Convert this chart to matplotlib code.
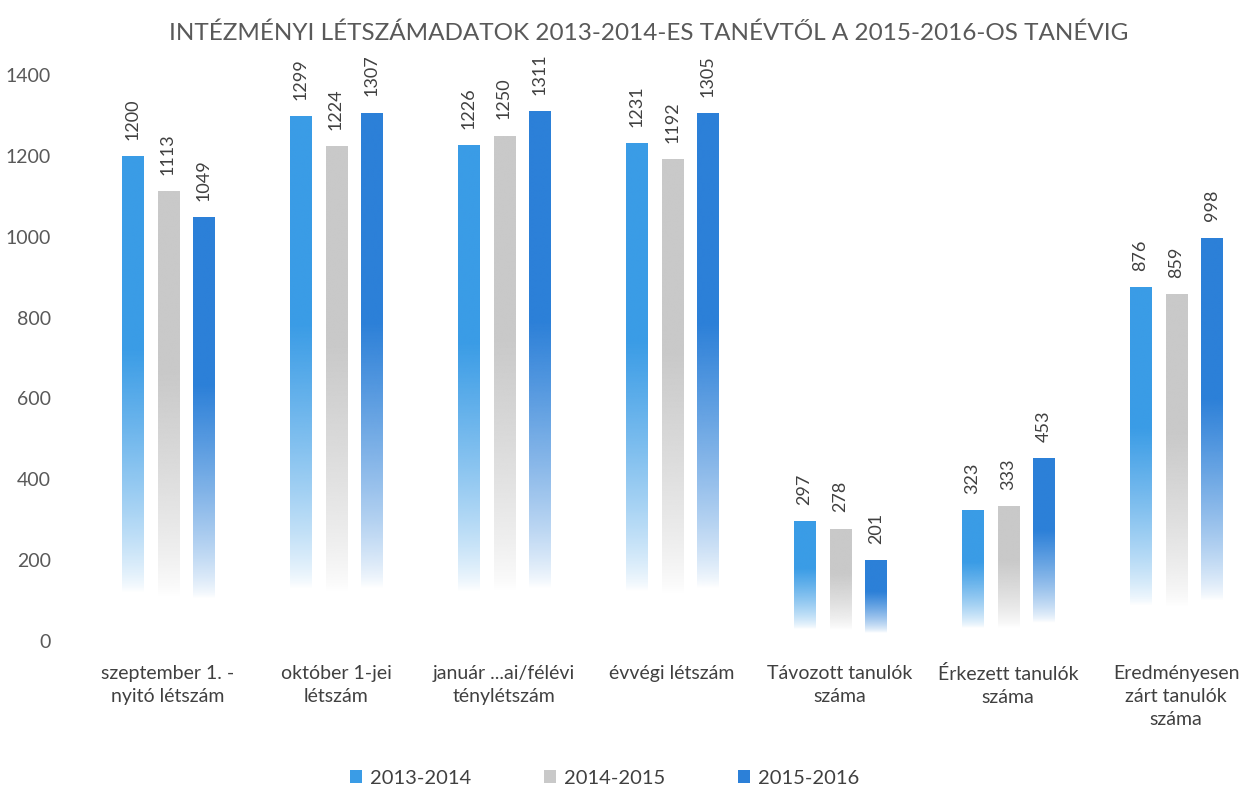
import numpy as np
import matplotlib.pyplot as plt
from matplotlib.colors import to_rgb
from matplotlib.patches import Patch

plt.rcParams['font.family'] = ['Lato', 'DejaVu Sans']

categories = ["szeptember 1. -\nnyitó létszám", "október 1-jei\nlétszám",
              "január ...ai/félévi\nténylétszám", "évvégi létszám",
              "Távozott tanulók\nszáma", "Érkezett tanulók\nszáma",
              "Eredményesen\nzárt tanulók\nszáma"]
series = ["2013-2014", "2014-2015", "2015-2016"]
v2013 = [1200, 1299, 1226, 1231, 297, 323, 876]
v2014 = [1113, 1224, 1250, 1192, 278, 333, 859]
v2015 = [1049, 1307, 1311, 1305, 201, 453, 998]
colors = ["#3a9ce6", "#c9c9c9", "#2c80d8"]

fig = plt.figure(figsize=(12.55, 7.94), dpi=100)
ax = fig.add_axes([84 / 1255, 153 / 794, (1255 - 84) / 1255, 566 / 794])

x = np.arange(len(categories))
width = 0.125
offset = 0.214


def gradient_bars(ax, xs, vals, color):
    bars = ax.bar(xs, vals, width, color='none', edgecolor='none')
    rgb = np.array(to_rgb(color))
    f = np.linspace(0, 1, 256)[:, None]
    a = np.clip((f - 0.1) / 0.5, 0, 1) ** 0.75
    img = np.zeros((256, 1, 4))
    img[..., :3] = rgb
    img[..., 3] = a
    for b in bars:
        im = ax.imshow(img, extent=[b.get_x(), b.get_x() + b.get_width(), 0, b.get_height()],
                       origin='lower', aspect='auto', interpolation='bilinear', zorder=2)
        im.set_clip_path(b)
    return bars


for i, (vals, c) in enumerate(zip([v2013, v2014, v2015], colors)):
    xs = x + (i - 1) * offset
    gradient_bars(ax, xs, vals, c)
    for xi, v in zip(xs, vals):
        ax.text(xi, v + 40, str(v), rotation=90, ha='center', va='bottom',
                fontsize=13, color='#404040')

ax.set_xlim(-0.5, 6.47)
ax.set_ylim(0, 1400)
ax.set_yticks(range(0, 1401, 200))
ax.set_xticks(x)
ax.set_xticklabels(categories, fontsize=14, color='#404040', linespacing=1.45)
ax.tick_params(axis='both', length=0, labelsize=14, colors='#595959')
ax.tick_params(axis='x', pad=17, labelcolor='#404040')
ax.tick_params(axis='y', pad=24)
for s in ax.spines.values():
    s.set_visible(False)

fig.text(0.517, 0.958, "INTÉZMÉNYI LÉTSZÁMADATOK 2013-2014-ES TANÉVTŐL A 2015-2016-OS TANÉVIG",
         ha='center', va='center', fontsize=17.5, color='#595959')

handles = [Patch(facecolor=c, edgecolor='none') for c in colors]
fig.legend(handles, series, loc='center', bbox_to_anchor=(0.482, 0.02), ncol=3, frameon=False,
           fontsize=14.5, handlelength=0.6, handleheight=0.6, columnspacing=3.6,
           handletextpad=0.4, labelcolor='#404040')

plt.savefig("out.png", dpi=100)
